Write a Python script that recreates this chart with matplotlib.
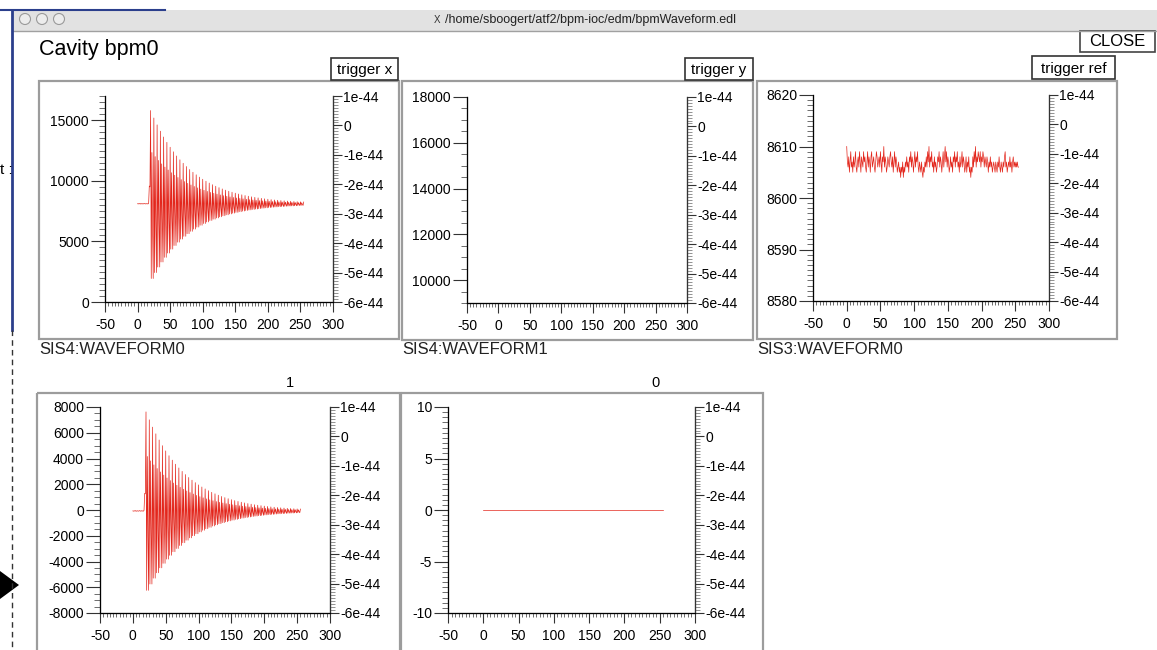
import matplotlib
matplotlib.use('Agg')
import matplotlib.pyplot as plt
from matplotlib.patches import Rectangle, Circle, Polygon
from matplotlib.ticker import MultipleLocator, FixedLocator, FixedFormatter
import numpy as np

plt.rcParams['font.family'] = ['Liberation Sans', 'DejaVu Sans']
plt.rcParams['axes.unicode_minus'] = False

W, H = 1157, 650
RED = '#e3261c'

# sample index of every waveform (256 samples)
sample = np.arange(256)

# SIS4:WAVEFORM0 - raw cavity signal
sis4_wave0 = [
    8110, 8090, 8120, 8100, 8130, 8080, 8110, 8120, 8090, 8100,
    8130, 8110, 8090, 8120, 8100, 8110, 8090, 8150, 9570, 9500,
    15800, 1940, 12335, 6175, 1940,
    15185, 2430, 11997, 6329, 2430,
    14617, 2886, 11684, 6471, 2886,
    14097, 3302, 11398, 6601, 3302,
    13618, 3686, 11135, 6720, 3686,
    13176, 4039, 10892, 6831, 4039,
    12771, 4363, 10669, 6932, 4363,
    12397, 4662, 10463, 7026, 4662,
    12053, 4938, 10274, 7112, 4938,
    11737, 5190, 10100, 7191, 5190,
    11447, 5422, 9941, 7263, 5422,
    11179, 5637, 9793, 7330, 5637,
    10933, 5834, 9658, 7392, 5834,
    10706, 6015, 9533, 7448, 6015,
    10498, 6182, 9419, 7500, 6182,
    10306, 6335, 9313, 7548, 6335,
    10130, 6476, 9217, 7592, 6476,
    9968, 6606, 9127, 7633, 6606,
    9818, 6726, 9045, 7670, 6726,
    9681, 6835, 8970, 7705, 6835,
    9555, 6936, 8900, 7736, 6936,
    9438, 7030, 8836, 7765, 7030,
    9331, 7115, 8777, 7792, 7115,
    9233, 7194, 8723, 7817, 7194,
    9142, 7266, 8673, 7839, 7266,
    9059, 7333, 8627, 7860, 7333,
    8982, 7394, 8585, 7879, 7394,
    8912, 7450, 8547, 7897, 7450,
    8847, 7502, 8511, 7913, 7502,
    8787, 7550, 8478, 7928, 7550,
    8732, 7594, 8448, 7942, 7594,
    8682, 7634, 8420, 7954, 7634,
    8635, 7672, 8394, 7966, 7672,
    8592, 7706, 8371, 7977, 7706,
    8553, 7738, 8349, 7987, 7738,
    8517, 7766, 8329, 7996, 7766,
    8483, 7794, 8311, 8004, 7794,
    8453, 7818, 8294, 8012, 7818,
    8425, 7840, 8279, 8019, 7840,
    8399, 7861, 8264, 8025, 7861,
    8375, 7880, 8251, 8031, 7880,
    8353, 7898, 8239, 8037, 7898,
    8333, 7914, 8228, 8042, 7914,
    8314, 7929, 8218, 8046, 7929,
    8297, 7942, 8208, 8051, 7942,
    8281, 7955, 8200, 8055, 7955,
    8267, 7966, 8192, 8058, 7966,
    8254,
]

# SIS4:WAVEFORM1 - nothing shown in its range
sis4_wave1 = []

# SIS3:WAVEFORM0 - reference channel noise around 8607
sis3_wave0 = [
    8610, 8607, 8606, 8608, 8605, 8607, 8609, 8606, 8607, 8605, 8608, 8606, 8607, 8609, 8606, 8605,
    8607, 8608, 8606, 8609, 8607, 8605, 8608, 8607, 8606, 8609, 8607, 8608, 8606, 8605, 8607, 8609,
    8606, 8608, 8607, 8605, 8608, 8609, 8606, 8607, 8608, 8606, 8605, 8607, 8609, 8608, 8606, 8607,
    8608, 8606, 8609, 8607, 8605, 8608, 8607, 8610, 8606, 8608, 8607, 8605, 8606, 8608, 8607, 8606,
    8608, 8609, 8607, 8606, 8608, 8605, 8607, 8609, 8606, 8608, 8607, 8605, 8606, 8607, 8605, 8606,
    8604, 8606, 8605, 8607, 8604, 8606, 8605, 8607, 8606, 8608, 8606, 8607, 8605, 8608, 8607, 8609,
    8606, 8608, 8607, 8605, 8607, 8609, 8606, 8608, 8607, 8609, 8606, 8605, 8607, 8606, 8605, 8607,
    8605, 8604, 8606, 8605, 8607, 8606, 8608, 8606, 8609, 8607, 8610, 8606, 8608, 8607, 8609, 8606,
    8607, 8605, 8608, 8606, 8607, 8605, 8606, 8608, 8607, 8609, 8606, 8608, 8607, 8605, 8607, 8609,
    8606, 8608, 8610, 8607, 8609, 8606, 8608, 8607, 8605, 8606, 8608, 8606, 8607, 8605, 8608, 8607,
    8609, 8606, 8608, 8607, 8609, 8606, 8607, 8605, 8608, 8606, 8607, 8609, 8606, 8608, 8607, 8605,
    8606, 8608, 8605, 8607, 8606, 8608, 8605, 8606, 8604, 8606, 8605, 8608, 8606, 8609, 8607, 8610,
    8606, 8608, 8607, 8609, 8608, 8607, 8609, 8606, 8608, 8607, 8609, 8608, 8606, 8608, 8607, 8606,
    8608, 8607, 8605, 8607, 8606, 8608, 8606, 8607, 8605, 8606, 8607, 8606, 8605, 8607, 8606, 8605,
    8607, 8606, 8608, 8606, 8605, 8607, 8606, 8605, 8607, 8606, 8608, 8609, 8606, 8607, 8605, 8606,
    8607, 8606, 8608, 8606, 8607, 8605, 8607, 8608, 8606, 8607, 8606, 8607, 8606, 8607, 8606, 8606,
]

# channel "1" - pedestal subtracted cavity signal
chan1_wave = [
    -70, -90, -60, -80, -50, -100, -70, -60, -90, -80,
    -50, -70, -90, -60, -80, -70, -90, -30, 1300, 1250,
    7620, -6240, 4155, -2005, -6240,
    7005, -5750, 3817, -1851, -5750,
    6437, -5294, 3504, -1709, -5294,
    5917, -4878, 3218, -1579, -4878,
    5438, -4494, 2955, -1460, -4494,
    4996, -4141, 2712, -1349, -4141,
    4591, -3817, 2489, -1248, -3817,
    4217, -3518, 2283, -1154, -3518,
    3873, -3242, 2094, -1068, -3242,
    3557, -2990, 1920, -989, -2990,
    3267, -2758, 1761, -917, -2758,
    2999, -2543, 1613, -850, -2543,
    2753, -2346, 1478, -788, -2346,
    2526, -2165, 1353, -732, -2165,
    2318, -1998, 1239, -680, -1998,
    2126, -1845, 1133, -632, -1845,
    1950, -1704, 1037, -588, -1704,
    1788, -1574, 947, -547, -1574,
    1638, -1454, 865, -510, -1454,
    1501, -1345, 790, -475, -1345,
    1375, -1244, 720, -444, -1244,
    1258, -1150, 656, -415, -1150,
    1151, -1065, 597, -388, -1065,
    1053, -986, 543, -363, -986,
    962, -914, 493, -341, -914,
    879, -847, 447, -320, -847,
    802, -786, 405, -301, -786,
    732, -730, 367, -283, -730,
    667, -678, 331, -267, -678,
    607, -630, 298, -252, -630,
    552, -586, 268, -238, -586,
    502, -546, 240, -226, -546,
    455, -508, 214, -214, -508,
    412, -474, 191, -203, -474,
    373, -442, 169, -193, -442,
    337, -414, 149, -184, -414,
    303, -386, 131, -176, -386,
    273, -362, 114, -168, -362,
    245, -340, 99, -161, -340,
    219, -319, 84, -155, -319,
    195, -300, 71, -149, -300,
    173, -282, 59, -143, -282,
    153, -266, 48, -138, -266,
    134, -251, 38, -134, -251,
    117, -238, 28, -129, -238,
    101, -225, 20, -125, -225,
    87, -214, 12, -122, -214,
    74,
]

# channel "0" - flat at zero
chan0_wave = [0] * 256

x_ticks = [-50, 0, 50, 100, 150, 200, 250, 300]
y2_ticks = [1e-44, 0, -1e-44, -2e-44, -3e-44, -4e-44, -5e-44, -6e-44]
y2_labels = ['1e-44', '0', '-1e-44', '-2e-44', '-3e-44', '-4e-44', '-5e-44', '-6e-44']


def frac(x0, y0, x1, y1):
    return [x0 / W, 1 - y1 / H, (x1 - x0) / W, (y1 - y0) / H]


fig = plt.figure(figsize=(W / 100, H / 100), dpi=100)
fig.patch.set_facecolor('white')

# background layer in pixel coordinates for the window decoration
bg = fig.add_axes([0, 0, 1, 1])
bg.set_xlim(0, W)
bg.set_ylim(H, 0)
bg.axis('off')

# window title bar
bg.add_patch(Rectangle((12, 10), W - 12, 21, facecolor='#e2e2e2', edgecolor='none'))
bg.plot([12, W], [31, 31], color='#a0a0a0', lw=1)
bg.plot([0, 165], [10, 10], color='#2b3f8c', lw=1.5)
bg.plot([12, 12], [10, 330], color='#2b3f8c', lw=2)
bg.plot([12, 12], [330, 650], color='#333333', lw=1, ls=(0, (4, 3)))
for cx in [25, 42, 59]:
    bg.add_patch(Circle((cx, 19), 5.5, facecolor='#ececec', edgecolor='#9a9a9a', lw=0.8))
bg.text(437, 20, 'X', fontsize=7, ha='center', va='center', color='#333333')
bg.text(445, 20, '/home/sboogert/atf2/bpm-ioc/edm/bpmWaveform.edl', fontsize=9,
        ha='left', va='center', color='#222222')
bg.text(0, 170, 't :', fontsize=11, ha='left', va='center')
bg.add_patch(Polygon([[0, 571], [19, 585], [0, 599]], closed=True, facecolor='black'))

# window content
bg.text(39, 50, 'Cavity bpm0', fontsize=15.5, ha='left', va='center')
bg.add_patch(Rectangle((1080, 31), 75, 21, facecolor='white', edgecolor='#444444', lw=1.2))
bg.text(1117.5, 42, 'CLOSE', fontsize=12, ha='center', va='center')

panels = [
    # data, axes box, frame box, ylim, major, minor
    (sis4_wave0, (105, 96, 333, 302), (39, 81, 399, 339), (0, 17000), 5000, 500),
    (sis4_wave1, (467, 97, 687, 303), (402, 81, 753, 340), (9000, 18000), 2000, 500),
    (sis3_wave0, (813, 95, 1049, 301), (757, 81, 1117, 339), (8580, 8620), 10, 1),
    (chan1_wave, (100, 407, 330, 613), (37, 393, 400, 662), (-8000, 8000), 2000, 500),
    (chan0_wave, (448, 407, 695, 613), (401, 393, 763, 662), (-10, 10), 5, 0.5),
]

for data, box, frame, ylim, major, minor in panels:
    bg.add_patch(Rectangle((frame[0], frame[1]), frame[2] - frame[0], frame[3] - frame[1],
                           facecolor='none', edgecolor='#9c9c9c', lw=1.6))
    ax = fig.add_axes(frac(*box))
    ax.set_zorder(1)
    if len(data):
        ax.plot(sample, data, color=RED, lw=0.5)
    ax.set_xlim(-50, 300)
    ax.set_ylim(*ylim)
    ax.xaxis.set_major_locator(FixedLocator(x_ticks))
    ax.xaxis.set_minor_locator(MultipleLocator(5))
    ax.yaxis.set_major_locator(MultipleLocator(major))
    ax.yaxis.set_minor_locator(MultipleLocator(minor))
    ax.tick_params(which='major', direction='out', length=10, width=0.8, labelsize=10, pad=1.5,
                   color='#333333')
    ax.tick_params(which='minor', direction='out', length=4.3, width=0.6, color='#555555')
    ax.tick_params(axis='x', which='major', length=7, pad=4.5)
    ax.tick_params(axis='x', which='minor', length=3)
    ax.spines['top'].set_visible(False)
    for s in ['left', 'bottom', 'right']:
        ax.spines[s].set_color('#333333')
        ax.spines[s].set_linewidth(0.9)

    ax2 = ax.twinx()
    ax2.set_zorder(1)
    ax2.set_ylim(-6e-44, 1e-44)
    ax2.yaxis.set_major_locator(FixedLocator(y2_ticks))
    ax2.yaxis.set_major_formatter(FixedFormatter(y2_labels))
    ax2.yaxis.set_minor_locator(MultipleLocator(0.1e-44))
    ax2.tick_params(which='major', direction='out', length=6.5, width=0.8, labelsize=10, pad=1,
                    color='#333333')
    ax2.tick_params(which='minor', direction='out', length=3.6, width=0.5, color='#666666')
    ax2.spines['top'].set_visible(False)
    ax2.spines['right'].set_color('#333333')

# buttons and captions
buttons = [('trigger x', (331, 58, 398, 80)), ('trigger y', (685, 58, 753, 80)),
           ('trigger ref', (1032, 56, 1115, 79))]
for name, (x0, y0, x1, y1) in buttons:
    bg.add_patch(Rectangle((x0, y0), x1 - x0, y1 - y0, facecolor='white', edgecolor='#333333', lw=1.2))
    bg.text((x0 + x1) / 2, (y0 + y1) / 2 + 1, name, fontsize=11, ha='center', va='center')

captions = [('SIS4:WAVEFORM0', 39), ('SIS4:WAVEFORM1', 402), ('SIS3:WAVEFORM0', 757)]
for name, x in captions:
    bg.text(x, 350, name, fontsize=12, ha='left', va='center', color='#222222')

bg.text(290, 383, '1', fontsize=10.5, ha='center', va='center')
bg.text(655, 383, '0', fontsize=10.5, ha='center', va='center')

fig.savefig('out.png', dpi=100)
